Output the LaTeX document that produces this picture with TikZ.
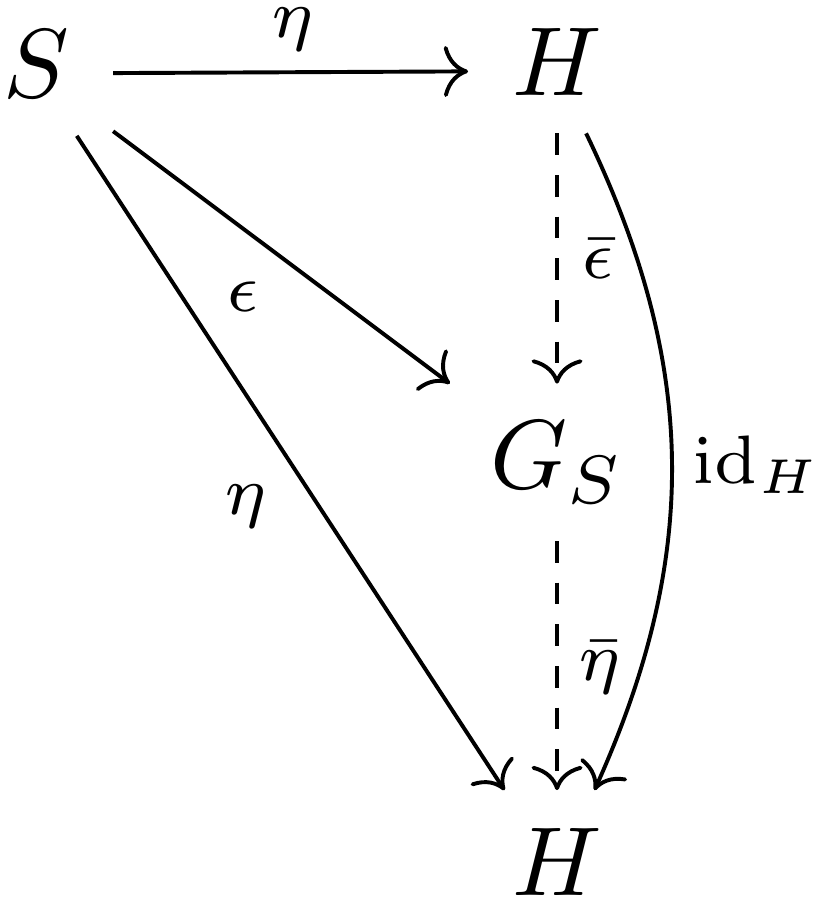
\documentclass[tikz,border=0pt]{standalone}
\usetikzlibrary{cd,arrows.meta}
\begin{document}
\begin{tikzpicture}[x=0.102pt,y=-0.102pt,
  obj/.style={shape=asymmetrical rectangle, inner xsep=1ex, inner ysep=0.85ex},
  lbl/.style={inner sep=0pt, font=\normalsize},
  arr/.style={line width=0.4pt, -{Computer Modern Rightarrow}},
  dsh/.style={dash pattern=on 2.2pt off 2.05pt}]
\useasboundingbox (0,0) rectangle (814,908);
% objects
\node[obj] (S)    at (36,73.5)  {$S$};
\node[obj] (Htop) at (557,71)   {$H$};
\node[obj] (GS)   at (557,464)  {$G_S$};
\node[obj] (Hbot) at (557,870.5) {$H$};
% arrows
\draw[arr] (S) -- (Htop);
\draw[arr] (S) -- (GS);
\draw[arr] (S) -- (Hbot);
\draw[arr,dsh] (Htop) -- (GS);
\draw[arr,dsh] (GS) -- (Hbot);
\draw[arr] (Htop) to[bend left=25] (Hbot);
% labels
\node[lbl] (l1) at (293,29)  {$\scriptstyle\eta$};
\node[lbl] (l2) at (243,297) {$\scriptstyle\epsilon$};
\node[lbl] (l3) at (246,506) {$\scriptstyle\eta$};
\node[lbl] (l4) at (598,259) {$\scriptstyle\bar\epsilon$};
\node[lbl] (l5) at (600,667) {$\scriptstyle\bar\eta$};
\node[lbl] (l6) at (757,465) {$\scriptstyle\mathrm{id}_H$};
\end{tikzpicture}
\end{document}
